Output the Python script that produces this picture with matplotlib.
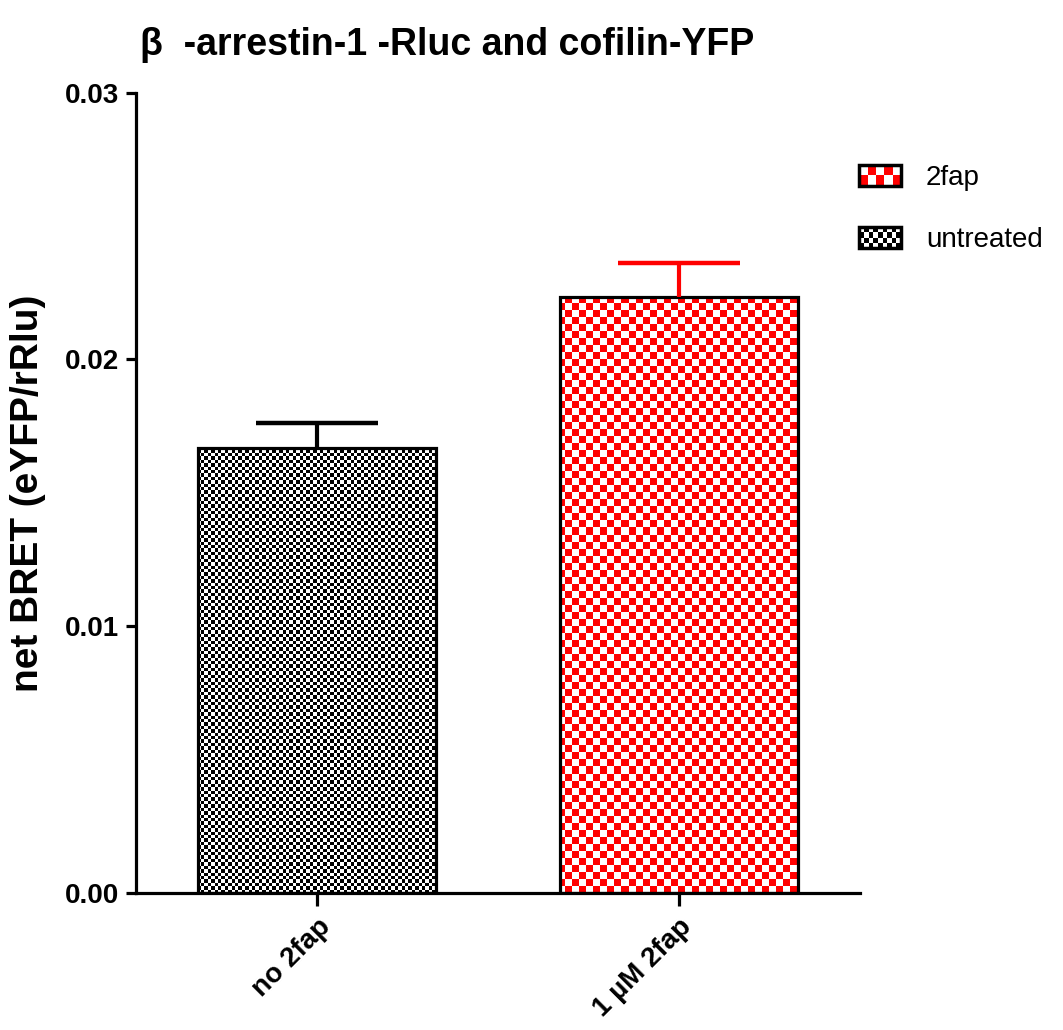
import numpy as np
import matplotlib
matplotlib.use("Agg")
import matplotlib.pyplot as plt
from matplotlib.patches import Rectangle
from matplotlib.legend_handler import HandlerBase

plt.rcParams['font.family'] = ['Liberation Sans', 'DejaVu Sans']

# data
categories = ["no 2fap", "1 \u00b5M 2fap"]
values = [0.01669, 0.02235]
errors = [0.00093, 0.00128]
colors = ["black", "red"]
cell_px = [3.4, 7.0]          # checker cell size in pixels
series_names = ["2fap", "untreated"]
yticks = [0.00, 0.01, 0.02, 0.03]


class CheckerHandler(HandlerBase):
    def __init__(self, color, nx, ny):
        super().__init__()
        self.color = color
        self.nx = nx
        self.ny = ny

    def create_artists(self, legend, orig_handle, xdescent, ydescent,
                       width, height, fontsize, trans):
        arts = []
        cw = width / self.nx
        ch = height / self.ny
        x0, y0 = -xdescent, -ydescent
        arts.append(Rectangle((x0, y0), width, height, facecolor="white",
                              edgecolor="none", transform=trans))
        for i in range(self.nx):
            for j in range(self.ny):
                if (i + j) % 2 == 0:
                    arts.append(Rectangle((x0 + i * cw, y0 + j * ch), cw, ch,
                                          facecolor=self.color, edgecolor="none",
                                          transform=trans))
        arts.append(Rectangle((x0, y0), width, height, fill=False,
                              edgecolor="black", linewidth=2.5, transform=trans))
        return arts


fig = plt.figure(figsize=(10.63, 10.30), dpi=100)
ax = fig.add_axes([0.128, 0.133, 0.681, 0.777])

x = np.arange(len(categories))
ax.set_xlim(-0.5, 1.5)
ax.set_ylim(0, 0.03)

bars = ax.bar(x, values, width=0.66, facecolor="none", edgecolor="black",
              linewidth=2.3, zorder=3)

# checker fill clipped to each bar
ax_w_px = 0.681 * 1063
ax_h_px = 0.777 * 1030
for b, c, px in zip(bars, colors, cell_px):
    nx = int(round(ax_w_px / px))
    ny = int(round(ax_h_px / px))
    grid = (np.add.outer(np.arange(ny), np.arange(nx)) % 2).astype(float)
    cmap = matplotlib.colors.ListedColormap(["white", c])
    im = ax.imshow(grid, cmap=cmap, extent=(-0.5, 1.5, 0, 0.03),
                   aspect="auto", interpolation="nearest", origin="lower",
                   zorder=2)
    im.set_clip_path(b)

# upper error bars only
for xi, v, e, c in zip(x, values, errors, colors):
    _, caps, _ = ax.errorbar(xi, v, yerr=[[0], [e]], fmt="none", ecolor=c,
                             elinewidth=3, capsize=44, capthick=3.2, zorder=4)
    caps[0].set_visible(False)

ax.spines["top"].set_visible(False)
ax.spines["right"].set_visible(False)
ax.spines["left"].set_linewidth(2.3)
ax.spines["bottom"].set_linewidth(2.3)

ax.set_yticks(yticks)
ax.set_yticklabels(["%.2f" % t for t in yticks], fontsize=20, fontweight="bold")
ax.tick_params(axis="y", length=7, width=2.3, pad=5)
ax.set_xticks(x)
ax.set_xticklabels(categories, fontsize=20, fontweight="bold", rotation=45,
                   ha="right", rotation_mode="anchor")
ax.tick_params(axis="x", length=9, width=2.3, pad=6)

ax.set_ylabel("net BRET (eYFP/rRlu)", fontsize=28, fontweight="bold", labelpad=14)
fig.text(0.132, 0.956, "\u03b2  -arrestin-1 -Rluc and cofilin-YFP",
         fontsize=27, fontweight="bold", va="center", ha="left")

h1 = Rectangle((0, 0), 1, 1)
h2 = Rectangle((0, 0), 1, 1)
fig.legend([h1, h2], series_names, loc="upper left",
           bbox_to_anchor=(0.785, 0.864), frameon=False, fontsize=20,
           handler_map={h1: CheckerHandler("red", 5, 2),
                        h2: CheckerHandler("black", 9, 4)},
           handlelength=1.5, handleheight=0.75, handletextpad=0.9,
           labelspacing=1.3)

fig.savefig("out.png", dpi=100)
